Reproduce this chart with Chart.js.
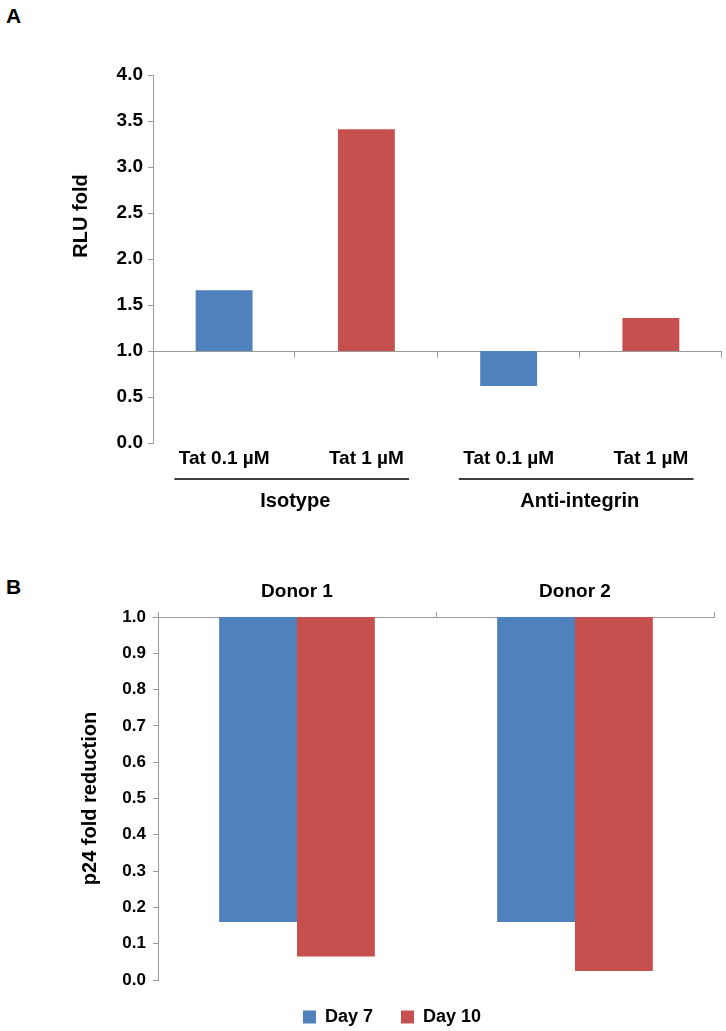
<!DOCTYPE html>
<html>
<head>
<meta charset="utf-8">
<script src="https://cdn.jsdelivr.net/npm/chart.js@4.4.1/dist/chart.umd.min.js"></script>
<style>
body{margin:0;background:#fff;width:726px;height:1031px;position:relative;overflow:hidden;font-family:Arial,"Liberation Sans",sans-serif;}
.panel{position:absolute;left:6px;font-weight:bold;font-size:21px;}
#wrapA{position:absolute;left:0;top:0;width:726px;height:540px;}
#wrapB{position:absolute;left:0;top:540px;width:726px;height:496px;}
</style>
</head>
<body>
<div class="panel" style="top:4px">A</div>
<div class="panel" style="top:575px">B</div>
<div id="wrapA"><canvas id="chartA" width="726" height="540"></canvas></div>
<div id="wrapB"><canvas id="chartB" width="726" height="496"></canvas></div>
<script>
// panel A : RLU fold, bars start from 1.0
const doseLabels = ["Tat 0.1 \u00b5M", "Tat 1 \u00b5M", "Tat 0.1 \u00b5M", "Tat 1 \u00b5M"];
const antibodyGroups = ["Isotype", "Anti-integrin"];
const rluFold = [1.66, 3.41, 0.62, 1.36];
const rluTicks = [0, 0.5, 1, 1.5, 2, 2.5, 3, 3.5, 4];

// panel B : p24 fold reduction, bars hang from 1.0
const donors = ["Donor 1", "Donor 2"];
const day7 = [0.16, 0.16];
const day10 = [0.065, 0.025];

const baseline = 1.0;
const blue = "#4F81BD";
const red = "#C6504E";
const axisGrey = "#9a9a9a";
const fontFam = 'Arial, "Liberation Sans", sans-serif';
const bold = size => ({family: fontFam, size: size, weight: "bold"});

const groupPlugin = {
    id: "groupPlugin",
    beforeDatasetsDraw(chart) {
        const {ctx, chartArea, scales: {x, y}} = chart;
        const y1 = Math.round(y.getPixelForValue(baseline)) + 0.5;
        const step = x.getPixelForValue(1) - x.getPixelForValue(0);
        ctx.save();
        ctx.strokeStyle = axisGrey;
        ctx.lineWidth = 1;
        ctx.beginPath();
        ctx.moveTo(chartArea.left, y1);
        ctx.lineTo(chartArea.right, y1);
        for (let i = 0; i < doseLabels.length; i++) {
            const bx = Math.round(x.getPixelForValue(i) + step / 2) - 0.5;
            ctx.moveTo(bx, y1);
            ctx.lineTo(bx, y1 + 6);
        }
        ctx.stroke();
        ctx.restore();
    },
    afterDraw(chart) {
        const {ctx, chartArea, scales: {x, y}} = chart;
        const step = x.getPixelForValue(1) - x.getPixelForValue(0);
        ctx.save();
        ctx.fillStyle = "#000";
        ctx.strokeStyle = "#000";
        ctx.lineWidth = 1.5;
        ctx.font = "bold 20px " + fontFam;
        ctx.textAlign = "center";
        ctx.textBaseline = "middle";
        antibodyGroups.forEach((g, k) => {
            const mid = (x.getPixelForValue(2 * k) + x.getPixelForValue(2 * k + 1)) / 2;
            const ly = chartArea.bottom + 36;
            ctx.beginPath();
            ctx.moveTo(mid - step * 0.85, ly);
            ctx.lineTo(mid + step * 0.8, ly);
            ctx.stroke();
            ctx.fillText(g, mid, chartArea.bottom + 58);
        });
        // y title, sits above the axis middle like in the original
        ctx.translate(81, 216);
        ctx.rotate(-Math.PI / 2);
        ctx.font = "bold 20px " + fontFam;
        ctx.fillText("RLU fold", 0, 0);
        ctx.restore();
    }
};

new Chart(document.getElementById("chartA"), {
    type: "bar",
    data: {
        labels: doseLabels,
        datasets: [{
            label: "RLU fold",
            data: rluFold.map(v => [baseline, v]),
            backgroundColor: rluFold.map((v, i) => i % 2 === 0 ? blue : red),
            borderWidth: 0,
            barPercentage: 0.4,
            categoryPercentage: 1
        }]
    },
    options: {
        responsive: false,
        animation: false,
        layout: {padding: {top: 75, right: 4, left: 0, bottom: 0}},
        plugins: {legend: {display: false}, tooltip: {enabled: false}},
        scales: {
            x: {
                grid: {display: false, drawTicks: false},
                border: {display: false},
                ticks: {color: "#000", font: bold(19), padding: 4, maxRotation: 0},
                afterFit: s => { s.height = 97; }
            },
            y: {
                min: 0, max: 4,
                afterBuildTicks: s => { s.ticks = rluTicks.map(v => ({value: v})); },
                grid: {drawOnChartArea: false, tickLength: 5, color: axisGrey},
                border: {color: axisGrey},
                ticks: {color: "#000", font: bold(19), padding: 5, callback: v => v.toFixed(1)},
                afterFit: s => { s.width = 153; }
            }
        }
    },
    plugins: [groupPlugin]
});

new Chart(document.getElementById("chartB"), {
    type: "bar",
    data: {
        labels: donors,
        datasets: [
            {label: "Day 7", data: day7.map(v => [baseline, v]), backgroundColor: blue, borderWidth: 0},
            {label: "Day 10", data: day10.map(v => [baseline, v]), backgroundColor: red, borderWidth: 0}
        ]
    },
    options: {
        responsive: false,
        animation: false,
        datasets: {bar: {barPercentage: 1, categoryPercentage: 0.56}},
        layout: {padding: {top: 0, right: 12, left: 70, bottom: 0}},
        plugins: {
            legend: {
                position: "bottom",
                labels: {color: "#000", font: bold(18), boxWidth: 13, boxHeight: 13, padding: 28}
            },
            tooltip: {enabled: false}
        },
        scales: {
            x: {
                position: "top",
                grid: {drawOnChartArea: false, tickLength: 5, color: axisGrey},
                border: {color: axisGrey},
                ticks: {color: "#000", font: bold(19), padding: 9},
                afterFit: s => { s.height = 77; }
            },
            y: {
                min: 0, max: 1,
                grid: {drawOnChartArea: false, tickLength: 5, color: axisGrey},
                border: {color: axisGrey},
                ticks: {color: "#000", font: bold(17), padding: 7, stepSize: 0.1, callback: v => v.toFixed(1)},
                title: {display: true, text: "p24 fold reduction", color: "#000", font: bold(20), padding: {top: 8, bottom: 0}},
                afterFit: s => { s.width = 88; }
            }
        }
    }
});
</script>
</body>
</html>
